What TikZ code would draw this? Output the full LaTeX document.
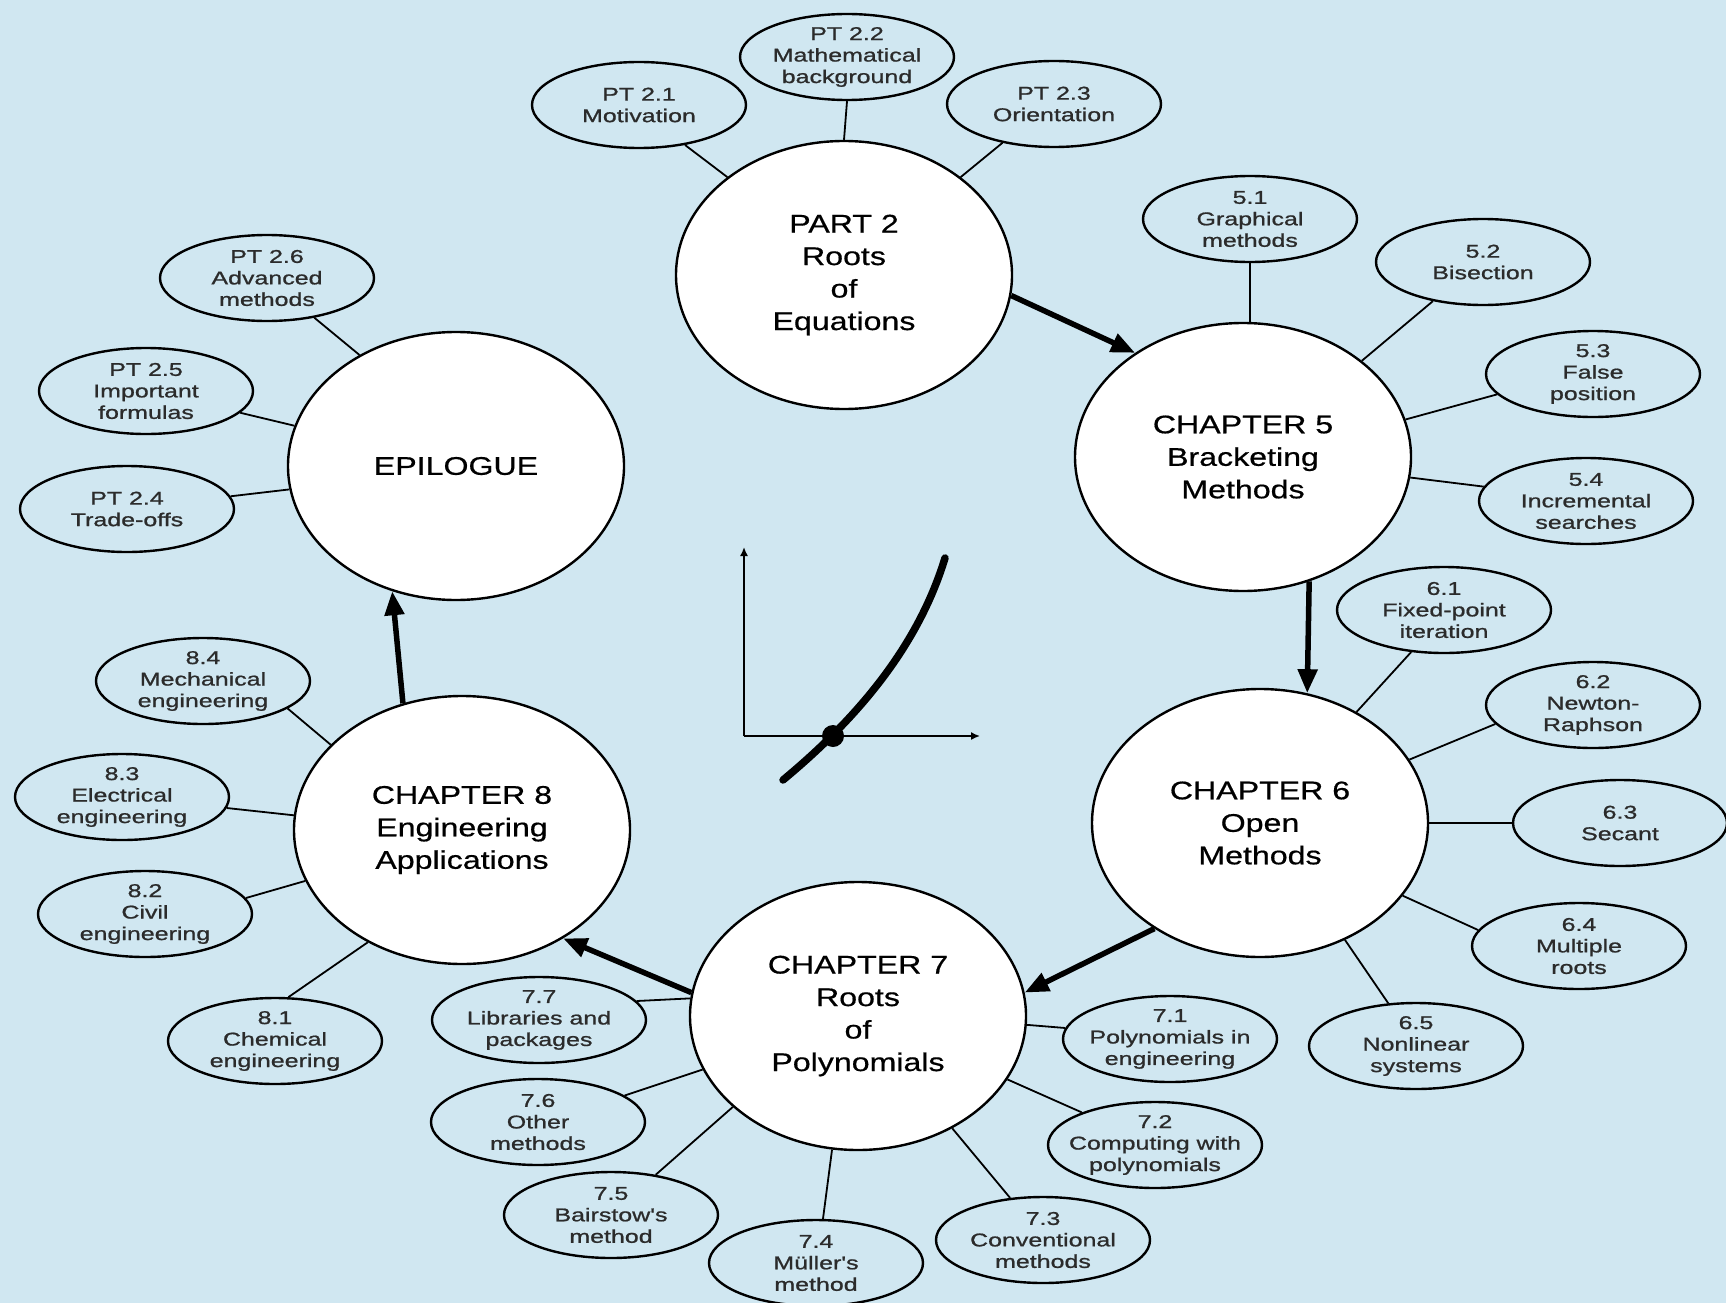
\documentclass[tikz,border=0pt]{standalone}
\usepackage{fontspec}
\newfontfamily\smallfont[FakeStretch=1.35,FakeBold=1.0]{Liberation Sans}
\newfontfamily\bigfont[FakeStretch=1.26,FakeBold=0.6]{Liberation Sans}
\usetikzlibrary{shapes.geometric,arrows.meta}
\definecolor{bg}{HTML}{D0E7F1}
\definecolor{txt}{HTML}{2B2B2B}
\begin{document}
\begin{tikzpicture}[x=1pt,y=-1pt,
 sub/.style={ellipse,draw,line width=2.4pt,fill=bg,minimum width=214pt,minimum height=86pt,
   inner xsep=-60pt,inner ysep=-12pt,align=center,text=txt,
   font=\smallfont\fontsize{18.5}{21.5}\selectfont},
 main/.style={ellipse,draw,line width=2.4pt,fill=white,minimum width=336pt,minimum height=268pt,
   inner sep=0pt,align=center,font=\bigfont\fontsize{25.5}{32.5}\selectfont},
 link/.style={line width=1.8pt},
 flow/.style={line width=5.5pt,-{Triangle[length=24pt,width=19pt]}},
 axis/.style={line width=1.6pt,-{Latex[length=9pt,width=8pt]}}]
\fill[bg] (0,0) rectangle (1726,1303);
\useasboundingbox (0,0) rectangle (1726,1303);

% main ellipses
\node[main] (p2) at (844,275) {PART 2\\Roots\\of\\Equations};
\node[main] (c5) at (1243,457) {CHAPTER 5\\Bracketing\\Methods};
\node[main] (c6) at (1260,823) {CHAPTER 6\\Open\\Methods};
\node[main] (c7) at (858,1016) {CHAPTER 7\\Roots\\of\\Polynomials};
\node[main] (c8) at (462,830) {CHAPTER 8\\Engineering\\Applications};
\node[main] (ep) at (456,466) {EPILOGUE};

% sub topics
\node[sub] (s21) at (639,105) {PT 2.1\\Motivation};
\node[sub] (s22) at (847,57) {PT 2.2\\Mathematical\\background};
\node[sub] (s23) at (1054,104) {PT 2.3\\Orientation};
\node[sub] (s24) at (127,509) {PT 2.4\\Trade-offs};
\node[sub] (s25) at (146,391) {PT 2.5\\Important\\formulas};
\node[sub] (s26) at (267,278) {PT 2.6\\Advanced\\methods};
\node[sub] (s51) at (1250,219) {5.1\\Graphical\\methods};
\node[sub] (s52) at (1483,262) {5.2\\Bisection};
\node[sub] (s53) at (1593,374) {5.3\\False\\position};
\node[sub] (s54) at (1586,501) {5.4\\Incremental\\searches};
\node[sub] (s61) at (1444,610) {6.1\\Fixed-point\\iteration};
\node[sub] (s62) at (1593,705) {6.2\\Newton-\\Raphson};
\node[sub] (s63) at (1620,823) {6.3\\Secant};
\node[sub] (s64) at (1579,946) {6.4\\Multiple\\roots};
\node[sub] (s65) at (1416,1046) {6.5\\Nonlinear\\systems};
\node[sub] (s71) at (1170,1039) {7.1\\Polynomials in\\engineering};
\node[sub] (s72) at (1155,1145) {7.2\\Computing with\\polynomials};
\node[sub] (s73) at (1043,1240) {7.3\\Conventional\\methods};
\node[sub] (s74) at (816,1263) {7.4\\Müller's\\method};
\node[sub] (s75) at (611,1215) {7.5\\Bairstow's\\method};
\node[sub] (s76) at (538,1122) {7.6\\Other\\methods};
\node[sub] (s77) at (539,1020) {7.7\\Libraries and\\packages};
\node[sub] (s81) at (275,1041) {8.1\\Chemical\\engineering};
\node[sub] (s82) at (145,914) {8.2\\Civil\\engineering};
\node[sub] (s83) at (122,797) {8.3\\Electrical\\engineering};
\node[sub] (s84) at (203,681) {8.4\\Mechanical\\engineering};

% connectors
\draw[link] (s21.-41) -- (p2.140);
\draw[link] (s22.-90) -- (p2.90);
\draw[link] (s23.217) -- (p2.40);
\draw[link] (s24.7) -- (ep.188);
\draw[link] (s25.-13) -- (ep.166);
\draw[link] (s26.-40) -- (ep.131);
\draw[link] (s51.-90) -- (c5.87);
\draw[link] (s52.218) -- (c5.39);
\draw[link] (s53.192) -- (c5.13.5);
\draw[link] (s54.172.5) -- (c5.-7.5);
\draw[link] (s61.232.5) -- (c6.49);
\draw[link] (s62.191.5) -- (c6.23);
\draw[link] (s63.180) -- (c6.0);
\draw[link] (s64.171) -- (c6.-27);
\draw[link] (s65.123) -- (c6.-54);
\draw[link] (s71.174) -- (c7.-3.5);
\draw[link] (s72.156) -- (c7.-23);
\draw[link] (s73.128) -- (c7.-50);
\draw[link] (s74.81) -- (c7.-101);
\draw[link] (s75.42) -- (c7.-144);
\draw[link] (s76.17) -- (c7.-161);
\draw[link] (s77.11) -- (c7.174);
\draw[link] (s81.73) -- (c8.-130);
\draw[link] (s82.9) -- (c8.-162);
\draw[link] (s83.-6) -- (c8.175);
\draw[link] (s84.-18) -- (c8.147);

% flow arrows
\draw[flow] (p2.-7) -- (c5.136);
\draw[flow] (c5.-62) -- (c6.70);
\draw[flow] (c6.225) -- (c7.8);
\draw[flow] (c7.172.5) -- (c8.-47);
\draw[flow] (c8.115) -- (ep.-117);

% central graph
\draw[axis] (744,736) -- (744,547);
\draw[axis] (744,736) -- (980,736);
\draw[line width=7.5pt,line cap=round] (783,780) .. controls (865,712) and (920,640) .. (945,558);
\fill (833,736) circle (11pt);
\end{tikzpicture}
\end{document}
